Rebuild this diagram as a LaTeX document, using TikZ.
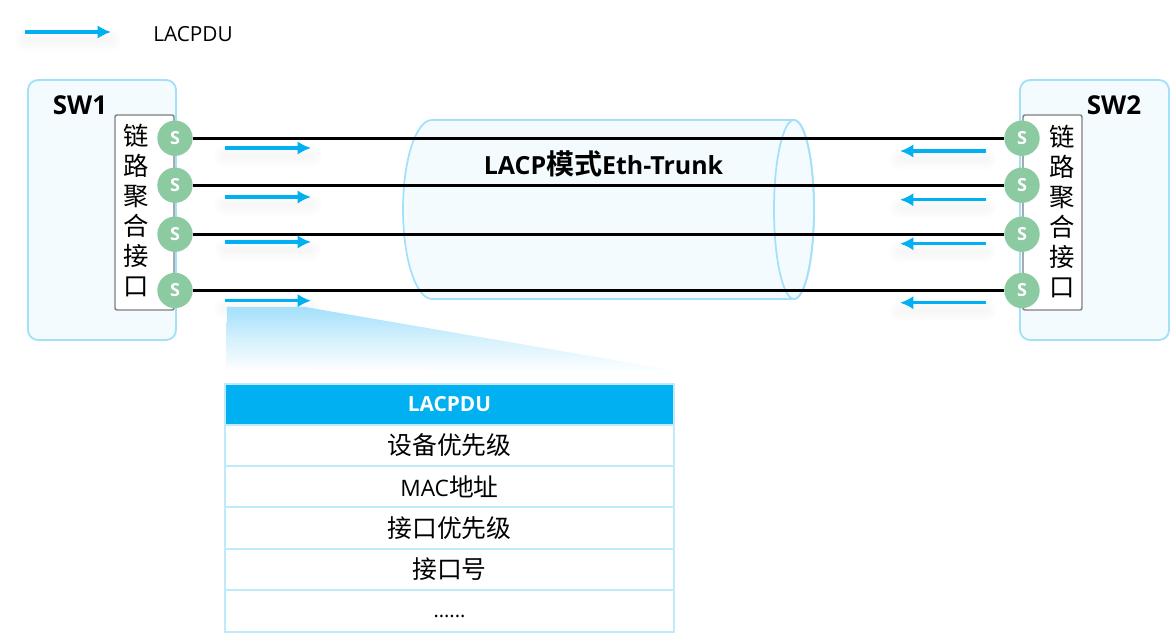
\documentclass[tikz,border=0pt]{standalone}
\usepackage{fontspec}
\setmainfont{Open Sans}
\newfontfamily\cjk{Noto Sans CJK SC}[BoldFont={Noto Sans CJK SC Bold}]
\usetikzlibrary{arrows.meta}
\definecolor{edgeblue}{HTML}{A3E0FA}
\definecolor{paleblue}{HTML}{F4FBFF}
\definecolor{rowline}{HTML}{BFEAFA}
\definecolor{flowblue}{HTML}{00B0F0}
\definecolor{portgreen}{HTML}{8CCBA1}
\definecolor{portgrey}{HTML}{7F7F7F}
\tikzset{
  swbox/.style={draw=edgeblue,fill=paleblue,line width=1.4pt,rounded corners=7.5pt,inner sep=0pt,outer sep=0pt},
  lagbox/.style={draw=portgrey,fill=white,line width=1.1pt,rounded corners=1.5pt,inner sep=0pt,outer sep=0pt,minimum width=44.25pt,minimum height=146.25pt},
  lagtext/.style={inner sep=0pt,align=center,font=\cjk\fontsize{19}{22.5}\selectfont},
  port/.style={circle,fill=portgreen,minimum size=26.5pt,inner sep=0pt,outer sep=0pt,text=white,font=\bfseries\fontsize{13.5}{15}\selectfont},
  wire/.style={line width=2.25pt,black},
  flow/.style={line width=2.5pt,flowblue,-{Latex[length=10pt,width=10pt]},
    preaction={draw=black,draw opacity=.006,line width=16pt,-,line cap=round,transform canvas={yshift=-6pt}},
    preaction={draw=black,draw opacity=.006,line width=12pt,-,line cap=round,transform canvas={yshift=-6pt}},
    preaction={draw=black,draw opacity=.006,line width=8pt,-,line cap=round,transform canvas={yshift=-6pt}},
    preaction={draw=black,draw opacity=.006,line width=4pt,-,line cap=round,transform canvas={yshift=-6pt}}},
  cell/.style={draw=rowline,fill=white,line width=1.7pt,minimum width=336.75pt,minimum height=31.1pt,inner sep=0pt,outer sep=0pt,font=\cjk\fontsize{18.6}{22}\selectfont},
  title/.style={inner sep=0pt,font=\bfseries\fontsize{19.5}{22}\selectfont},
}
\begin{document}
\begin{tikzpicture}[x=0.75pt,y=-0.75pt]
\useasboundingbox (0,0) rectangle (1170,641);
% legend
\coordinate (legA) at (25,32);
\coordinate (legB) at (111,32);
\draw[flow] (legA) -- (legB);
\node[inner sep=0pt,anchor=west,font=\fontsize{15.6}{18}\selectfont] (legtext) at (153,34) {LACPDU};
% switches
\node[swbox,minimum width=111pt,minimum height=195pt] (sw1) at (102,210) {};
\node[swbox,minimum width=111.75pt,minimum height=195pt] (sw2) at (1094.5,210) {};
\node[title] (sw1t) at (80,105) {SW1};
\node[title] (sw2t) at (1114,105) {SW2};
\node[lagbox] (lag1) at (144.5,212.5) {};
\node[lagbox] (lag2) at (1052.5,212.5) {};
\node[lagtext] (lag1t) at (136.5,211) {链\\路\\聚\\合\\接\\口};
\node[lagtext] (lag2t) at (1062.5,212) {链\\路\\聚\\合\\接\\口};
% trunk
\path[draw=edgeblue,fill=paleblue,line width=1.3pt]
  (432,120) -- (794,120) .. controls (805,120) and (814,160) .. (814,209.5)
  .. controls (814,259) and (805,299) .. (794,299) -- (432,299)
  .. controls (416,299) and (403,259) .. (403,209.5)
  .. controls (403,160) and (416,120) .. (432,120) -- cycle;
\draw[edgeblue,line width=1.3pt] (794,209.5) ellipse [x radius=20,y radius=89.5];
\node[inner sep=0pt,font=\bfseries\fontsize{18.7}{22}\selectfont] (trunk) at (603.5,164) {LACP{\cjk\bfseries\fontsize{21}{22}\selectfont 模式}Eth-Trunk};
% ports
\foreach \n/\y in {1/138.2,2/185.2,3/234.2,4/290.5}{
  \node[port] (l\n) at (175,\y) {S};
  \node[port] (r\n) at (1022,\y) {S};
}
\foreach \n in {1,2,3,4}{ \draw[wire] (l\n) -- (r\n); }
% flows
\foreach \n/\y in {1/148,2/197,3/242,4/300.7}{
  \coordinate (la\n) at (225,\y);
  \coordinate (lb\n) at (311,\y);
  \draw[flow] (la\n) -- (lb\n);
}
\foreach \n/\y in {1/151,2/199.7,3/243.7,4/302.7}{
  \coordinate (ra\n) at (986,\y);
  \coordinate (rb\n) at (900,\y);
  \draw[flow] (ra\n) -- (rb\n);
}
% callout
\shade[top color=edgeblue,bottom color=white,middle color=edgeblue!45] (227,307) -- (305,307) -- (684,372) -- (226,368) -- cycle;
% table
\node[cell,fill=flowblue,text=white,font=\bfseries\fontsize{15.6}{18}\selectfont] (c0) at (449.5,404.5) {LACPDU};
\node[cell] (c1) at (449.5,445.5) {设备优先级};
\node[cell] (c2) at (449.5,487) {\fontsize{17}{20}\selectfont\normalfont MAC{\cjk\fontsize{18.6}{22}\selectfont 地址}};
\node[cell] (c3) at (449.5,528) {接口优先级};
\node[cell] (c4) at (449.5,569.5) {接口号};
\node[cell] (c5) at (449.5,611) {\raisebox{-4.5pt}[0pt][0pt]{\normalfont\fontsize{15}{18}\selectfont ......}};
\end{tikzpicture}
\end{document}
